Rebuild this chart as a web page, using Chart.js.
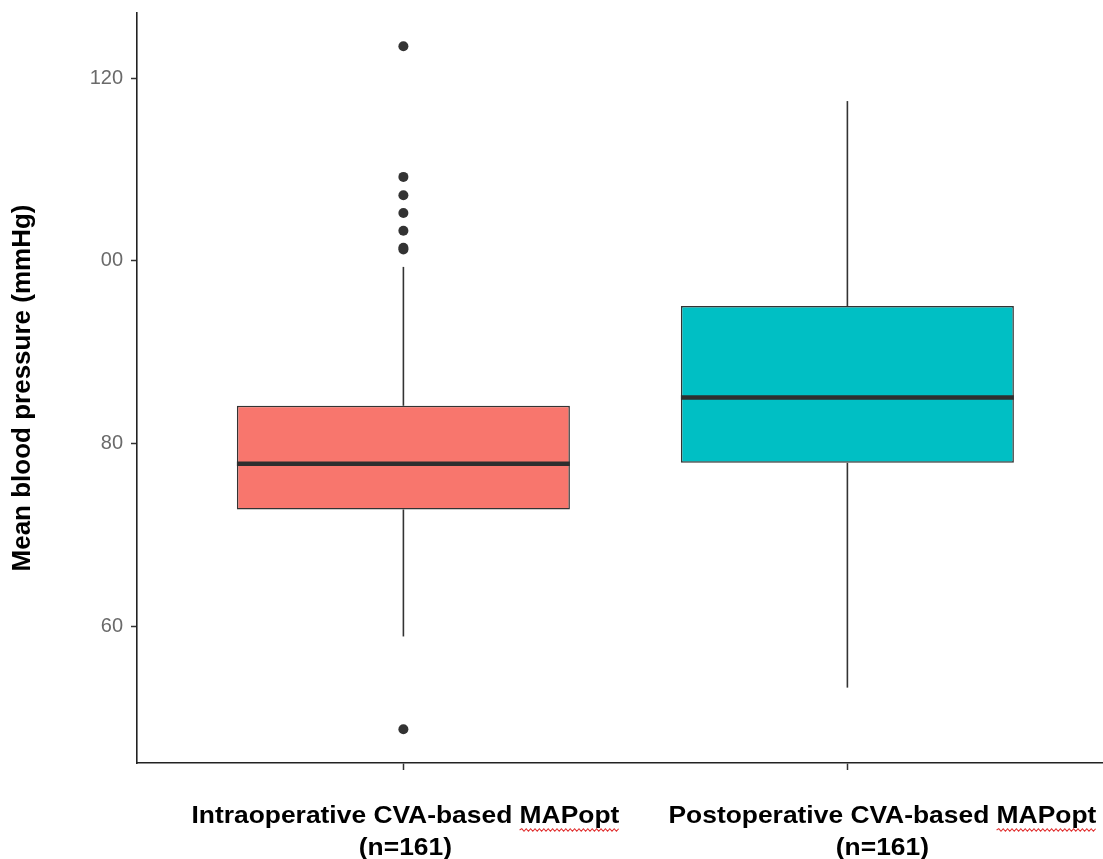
<!DOCTYPE html>
<html><head><meta charset="utf-8">
<script src="https://cdn.jsdelivr.net/npm/chart.js@4"></script>
<style>html,body{margin:0;padding:0;background:#fff;overflow:hidden}</style>
</head><body>
<canvas id="c" width="1103" height="859"></canvas>
<script>
const categories = [["Intraoperative CVA-based MAPopt","(n=161)"],["Postoperative CVA-based MAPopt","(n=161)"]];
const catPos = [1, 2];
const q1 = [72.8, 77.9];
const median = [77.8, 85.05];
const q3 = [84.15, 95.06];
const whiskerLow = [58.9, 53.3];
const whiskerHigh = [99.35, 117.5];
const outliers = [[123.5, 109.2, 107.2, 105.25, 103.3, 101.45, 101.25, 48.75], []];
const boxColors = ['#F8766D', '#00BFC4'];
const yTicks = [60, 80, 100, 120];
const yTickLabels = ['60', '80', '00', '120'];
const yTitle = 'Mean blood pressure (mmHg)';

const FONT = "'Liberation Sans', Arial, sans-serif";
const INK = '#333333';

const datasets = [];
datasets.push({
  type: 'bar',
  data: catPos.map((c, i) => ({x: c, y: [q1[i], q3[i]]})),
  backgroundColor: boxColors,
  borderColor: INK, borderWidth: 1.5, borderSkipped: false,
  barPercentage: 0.75, categoryPercentage: 1, order: 4
});
catPos.forEach((c, i) => {
  const common = {type: 'line', borderColor: INK, pointRadius: 0, pointHoverRadius: 0, fill: false, order: 3, borderWidth: 1.6};
  datasets.push(Object.assign({}, common, {data: [{x: c, y: q3[i]}, {x: c, y: whiskerHigh[i]}]}));
  datasets.push(Object.assign({}, common, {data: [{x: c, y: whiskerLow[i]}, {x: c, y: q1[i]}]}));
  datasets.push(Object.assign({}, common, {order: 2, borderWidth: 4.5, borderColor: '#2e2e2e',
    data: [{x: c - 0.375, y: median[i]}, {x: c + 0.375, y: median[i]}]}));
});
datasets.push({
  type: 'scatter',
  data: outliers.flatMap((arr, i) => arr.map(v => ({x: catPos[i], y: v}))),
  pointRadius: 5, backgroundColor: INK, borderWidth: 0, order: 1
});

const xLabelPlugin = {
  id: 'xLabels',
  afterDraw(chart, args, opts) {
    const ctx = chart.ctx, xs = chart.scales.x;
    categories.forEach((lines, i) => {
      const cx = xs.getPixelForValue(catPos[i]) + opts.offsets[i];
      ctx.save();
      ctx.font = opts.font;
      ctx.fillStyle = opts.color;
      ctx.textAlign = 'center';
      ctx.textBaseline = 'middle';
      ctx.translate(cx, 0);
      ctx.scale(opts.stretch, 1);
      lines.forEach((t, j) => ctx.fillText(t, 0, opts.lineY[j]));
      const w = ctx.measureText(lines[0]).width;
      const ww = ctx.measureText(opts.underlineWord).width;
      const end = w / 2, start = end - ww;
      const y = opts.lineY[0] + opts.underlineDy;
      ctx.beginPath();
      ctx.strokeStyle = '#e03030';
      ctx.lineWidth = 1;
      let up = true;
      ctx.moveTo(start, y);
      for (let x = start + 2; x <= end; x += 2) { ctx.lineTo(x, y + (up ? -1.3 : 1.3)); up = !up; }
      ctx.stroke();
      ctx.restore();
    });
  }
};

new Chart(document.getElementById('c'), {
  type: 'bar',
  data: {datasets},
  plugins: [xLabelPlugin],
  options: {
    responsive: false, animation: false,
    layout: {autoPadding: false, padding: {top: 13, right: 0, left: 0, bottom: 0}},
    plugins: {
      legend: {display: false}, tooltip: {enabled: false},
      xLabels: {font: "bold 24px " + FONT, color: '#000', stretch: 1.1, offsets: [2, 35], lineY: [816, 848], underlineWord: 'MAPopt', underlineDy: 14}
    },
    scales: {
      x: {
        type: 'linear', min: 0.4, max: 2.5757, offset: false,
        afterBuildTicks: s => { s.ticks = catPos.map(v => ({value: v})); },
        ticks: {callback: () => '', font: {size: 10}},
        grid: {offset: false, drawOnChartArea: false, drawTicks: true, tickLength: 7, tickColor: INK, tickWidth: 1.5},
        border: {display: true, color: '#222', width: 1.6},
        afterFit: s => { s.height = 96; s.paddingLeft = 0; s.paddingRight = 0; }
      },
      y: {
        min: 45.05, max: 127.14,
        afterBuildTicks: s => { s.ticks = yTicks.map(v => ({value: v})); },
        ticks: {callback: v => yTickLabels[yTicks.indexOf(v)], color: '#6a6a6a', font: {family: FONT, size: 20}, padding: 8},
        grid: {drawOnChartArea: false, drawTicks: true, tickLength: 6, tickColor: INK, tickWidth: 1.5},
        border: {display: true, color: '#222', width: 1.6},
        title: {display: true, text: yTitle, color: '#000', font: {family: FONT, size: 26, weight: 'bold'}, padding: {top: 7, bottom: 0}},
        afterFit: s => { s.width = 137; s.paddingTop = 0; s.paddingBottom = 0; }
      }
    }
  }
});
</script>
</body></html>
